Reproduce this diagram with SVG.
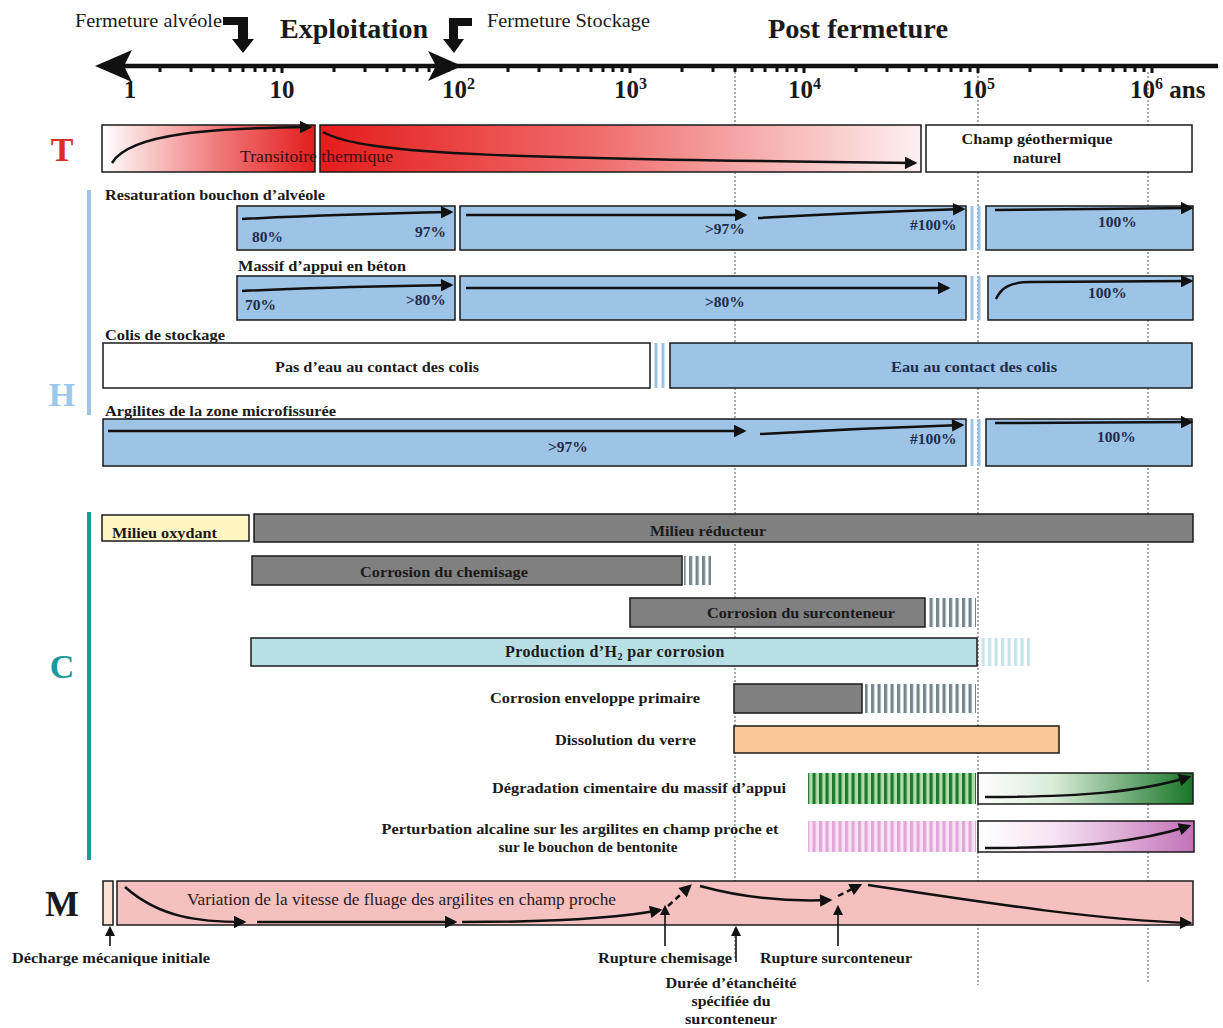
<svg xmlns="http://www.w3.org/2000/svg" width="1223" height="1028" viewBox="0 0 1223 1028">
<style>
text{font-family:"Liberation Serif","Times New Roman",serif;fill:#1a1a1a}
.b{font-weight:bold}
.lbl{font-size:15px;font-weight:bold}
.box{stroke:#1a1a1a;stroke-width:1.5}
.hb{fill:#9dc3e6;stroke:#1a1a1a;stroke-width:1.5}
.gray{fill:#808080;stroke:#1a1a1a;stroke-width:1.5}
.arr{fill:none;stroke:#111;stroke-width:2.5;marker-end:url(#ah)}
.thin{fill:none;stroke:#111;stroke-width:1.6;marker-end:url(#ah2)}
.dot{stroke:#555;stroke-width:1;stroke-dasharray:2,2}
.gap{stroke:#9dc3e6;stroke-width:3}
.ht{font-size:15.5px;font-weight:bold;fill:#1f2d4d}
</style>
<defs>
<marker id="ah" viewBox="0 0 10 10" refX="8" refY="5" markerWidth="5.5" markerHeight="5" orient="auto"><path d="M0,0 L10,5 L0,10 z" fill="#111"/></marker>
<marker id="ah2" viewBox="0 0 10 10" refX="8" refY="5" markerWidth="6.5" markerHeight="6.5" orient="auto"><path d="M0,0 L10,5 L0,10 z" fill="#111"/></marker>
<linearGradient id="gT1" x1="0" y1="0" x2="1" y2="0"><stop offset="0" stop-color="#ffffff"/><stop offset="0.55" stop-color="#f07878"/><stop offset="1" stop-color="#e41c1c"/></linearGradient>
<linearGradient id="gT2" x1="0" y1="0" x2="1" y2="0"><stop offset="0" stop-color="#e41c1c"/><stop offset="0.45" stop-color="#f06a6a"/><stop offset="1" stop-color="#fdf0f0"/></linearGradient>
<linearGradient id="gG" x1="0" y1="0" x2="1" y2="0"><stop offset="0" stop-color="#ffffff"/><stop offset="0.35" stop-color="#d8ecd8"/><stop offset="1" stop-color="#177526"/></linearGradient>
<linearGradient id="gP" x1="0" y1="0" x2="1" y2="0"><stop offset="0" stop-color="#ffffff"/><stop offset="0.35" stop-color="#f6e4f2"/><stop offset="1" stop-color="#c272b8"/></linearGradient>
<pattern id="pGray" patternUnits="userSpaceOnUse" width="6.5" height="10"><rect width="6.5" height="10" fill="#ffffff"/><rect width="3.2" height="10" fill="#73868e"/></pattern>
<pattern id="pCyan" patternUnits="userSpaceOnUse" width="6.5" height="10"><rect width="6.5" height="10" fill="#ffffff"/><rect width="3.2" height="10" fill="#c6e4ec"/></pattern>
<pattern id="pGreen" patternUnits="userSpaceOnUse" width="6.5" height="10"><rect width="6.5" height="10" fill="#b5dcae"/><rect width="3.2" height="10" fill="#1c7a2c"/></pattern>
<pattern id="pPink" patternUnits="userSpaceOnUse" width="6.5" height="10"><rect width="6.5" height="10" fill="#f8e4f4"/><rect width="3.2" height="10" fill="#e2a6da"/></pattern>
</defs>
<rect width="1223" height="1028" fill="#ffffff"/>

<g id="dotted-lines">
<line class="dot" x1="735" y1="72" x2="735" y2="960"/>
<line class="dot" x1="978" y1="72" x2="978" y2="985"/>
<line class="dot" x1="1148" y1="72" x2="1148" y2="982"/>
</g>

<g id="timeline">
<text x="75" y="27" font-size="18" textLength="147" lengthAdjust="spacingAndGlyphs">Fermeture alvéole</text>
<text x="280" y="38" font-size="28" class="b" textLength="148" lengthAdjust="spacingAndGlyphs">Exploitation</text>
<text x="487" y="27" font-size="18" textLength="163" lengthAdjust="spacingAndGlyphs">Fermeture Stockage</text>
<text x="768" y="38" font-size="28" class="b" textLength="180" lengthAdjust="spacingAndGlyphs">Post fermeture</text>
<polygon points="223,17 248,17 248,39 254,39 243,53 232,39 238,39 238,25 223,25" fill="#111"/>
<polygon points="472,26 458,26 458,39 464,39 454,53 443,39 449,39 449,18 472,18" fill="#111"/>
<line x1="120" y1="66" x2="1218" y2="66" stroke="#111" stroke-width="4.5"/>
<polygon points="95,66 132,50 124,66 132,82" fill="#111"/>
<polygon points="462,66 428,51 436,66 428,81" fill="#111"/>
<path stroke="#111" stroke-width="3" d="M160,66v6M191,66v6M213,66v6M230,66v6M243,66v6M255,66v6M265,66v6M274,66v6M282,66v7M334,66v6M365,66v6M387,66v6M404,66v6M417,66v6M429,66v6M439,66v6M448,66v6M508,66v6M539,66v6M561,66v6M578,66v6M591,66v6M603,66v6M613,66v6M622,66v6M630,66v7M682,66v6M713,66v6M735,66v6M752,66v6M765,66v6M777,66v6M787,66v6M796,66v6M804,66v7M856,66v6M887,66v6M909,66v6M926,66v6M939,66v6M951,66v6M961,66v6M970,66v6M978,66v7M1030,66v6M1061,66v6M1083,66v6M1100,66v6M1113,66v6M1125,66v6M1135,66v6M1144,66v6M1152,66v7"/>
<text x="130" y="98" font-size="25" class="b" text-anchor="middle">1</text>
<text x="282" y="98" font-size="25" class="b" text-anchor="middle">10</text>
<text x="442" y="98" font-size="25" class="b">10<tspan font-size="16" dy="-9">2</tspan></text>
<text x="614" y="98" font-size="25" class="b">10<tspan font-size="16" dy="-9">3</tspan></text>
<text x="788" y="98" font-size="25" class="b">10<tspan font-size="16" dy="-9">4</tspan></text>
<text x="962" y="98" font-size="25" class="b">10<tspan font-size="16" dy="-9">5</tspan></text>
<text x="1130" y="98" font-size="25" class="b">10<tspan font-size="16" dy="-9">6</tspan><tspan dy="9"> ans</tspan></text>
</g>

<g id="T">
<text x="62" y="161" font-size="34" class="b" text-anchor="middle" style="fill:#d63022">T</text>
<rect class="box" x="102" y="125" width="213" height="47" fill="url(#gT1)"/>
<rect class="box" x="320" y="125" width="601" height="47" fill="url(#gT2)"/>
<rect class="box" x="926" y="125" width="266" height="47" fill="#ffffff"/>
<path class="arr" d="M112,163 C130,132 220,128 310,127"/>
<path class="arr" d="M323,132 C365,156 520,158 915,163"/>
<text x="240" y="162" font-size="16" textLength="153" lengthAdjust="spacingAndGlyphs" style="fill:#3a1010">Transitoire thermique</text>
<text x="1037" y="144" class="lbl" text-anchor="middle" textLength="151" lengthAdjust="spacingAndGlyphs">Champ géothermique</text>
<text x="1037" y="163" class="lbl" text-anchor="middle" textLength="48" lengthAdjust="spacingAndGlyphs">naturel</text>
</g>

<g id="H">
<line x1="89" y1="190" x2="89" y2="415" stroke="#9dc3e6" stroke-width="4"/>
<text x="62" y="406" font-size="34" class="b" text-anchor="middle" style="fill:#9cc8ec">H</text>

<g id="resaturation">
<text x="105" y="200" class="lbl" textLength="220" lengthAdjust="spacingAndGlyphs">Resaturation bouchon d’alvéole</text>
<rect class="hb" x="237" y="206" width="218" height="44"/>
<rect class="hb" x="460" y="206" width="506" height="44"/>
<line class="gap" x1="972" y1="206" x2="972" y2="250"/><line class="gap" x1="979" y1="206" x2="979" y2="250"/>
<rect class="hb" x="986" y="206" width="207" height="44"/>
<path class="arr" d="M242,219 C320,215 400,213 451,212"/>
<path class="arr" d="M466,215 L745,215"/>
<path class="arr" d="M758,218 C830,214 900,211 963,209"/>
<path class="arr" d="M995,210 L1191,208"/>
<text x="252" y="242" class="ht">80%</text>
<text x="415" y="237" class="ht">97%</text>
<text x="705" y="234" class="ht">&gt;97%</text>
<text x="910" y="230" class="ht">#100%</text>
<text x="1098" y="227" class="ht">100%</text>
</g>

<g id="massif">
<text x="238" y="271" class="lbl" textLength="168" lengthAdjust="spacingAndGlyphs">Massif d’appui en béton</text>
<rect class="hb" x="237" y="276" width="218" height="44"/>
<rect class="hb" x="460" y="276" width="506" height="44"/>
<line class="gap" x1="972" y1="276" x2="972" y2="320"/><line class="gap" x1="979" y1="276" x2="979" y2="320"/>
<rect class="hb" x="988" y="276" width="205" height="44"/>
<path class="arr" d="M242,291 C320,287 400,286 451,285"/>
<path class="arr" d="M466,288 L948,288"/>
<path class="arr" d="M996,299 C1001,288 1010,282 1030,282 L1191,281"/>
<text x="245" y="310" class="ht">70%</text>
<text x="406" y="305" class="ht">&gt;80%</text>
<text x="705" y="307" class="ht">&gt;80%</text>
<text x="1088" y="298" class="ht">100%</text>
</g>

<g id="colis">
<text x="105" y="340" class="lbl" textLength="120" lengthAdjust="spacingAndGlyphs">Colis de stockage</text>
<rect class="box" x="103" y="343" width="547" height="45" fill="#ffffff"/>
<line class="gap" x1="656" y1="343" x2="656" y2="388"/><line class="gap" x1="663" y1="343" x2="663" y2="388"/>
<rect class="hb" x="670" y="343" width="522" height="45"/>
<text x="377" y="372" class="lbl" text-anchor="middle" textLength="204" lengthAdjust="spacingAndGlyphs">Pas d’eau au contact des colis</text>
<text x="974" y="372" class="ht" text-anchor="middle" textLength="166" lengthAdjust="spacingAndGlyphs">Eau au contact des colis</text>
</g>

<g id="argilites">
<text x="105" y="416" class="lbl" textLength="231" lengthAdjust="spacingAndGlyphs">Argilites de la zone microfissurée</text>
<rect class="hb" x="103" y="419" width="863" height="47"/>
<line class="gap" x1="972" y1="419" x2="972" y2="466"/><line class="gap" x1="979" y1="419" x2="979" y2="466"/>
<rect class="hb" x="986" y="419" width="206" height="47"/>
<path class="arr" d="M108,431 L744,431"/>
<path class="arr" d="M760,434 C830,430 900,427 962,425"/>
<path class="arr" d="M995,423 L1191,422"/>
<text x="548" y="452" class="ht">&gt;97%</text>
<text x="910" y="444" class="ht">#100%</text>
<text x="1097" y="442" class="ht">100%</text>
</g>
</g>

<g id="C">
<line x1="89" y1="512" x2="89" y2="860" stroke="#1a9a98" stroke-width="4"/>
<text x="62" y="678" font-size="34" class="b" text-anchor="middle" style="fill:#1a9a98">C</text>
<g id="oxydant"><rect class="box" x="102" y="515" width="147" height="26" fill="#fff6c4"/><text x="112" y="538" class="lbl" textLength="105" lengthAdjust="spacingAndGlyphs">Milieu oxydant</text></g>
<g id="reducteur"><rect class="gray" x="254" y="514" width="939" height="28"/><text x="708" y="536" class="lbl" text-anchor="middle" textLength="116" lengthAdjust="spacingAndGlyphs">Milieu réducteur</text></g>
<g id="chemisage"><rect class="gray" x="252" y="556" width="430" height="29"/><rect x="684" y="556" width="27" height="29" fill="url(#pGray)"/><text x="444" y="577" class="lbl" text-anchor="middle" textLength="168" lengthAdjust="spacingAndGlyphs">Corrosion du chemisage</text></g>
<g id="surconteneur"><rect class="gray" x="630" y="598" width="295" height="29"/><rect x="927" y="598" width="49" height="29" fill="url(#pGray)"/><text x="801" y="618" class="lbl" text-anchor="middle" textLength="188" lengthAdjust="spacingAndGlyphs">Corrosion du surconteneur</text></g>
<g id="h2"><rect class="box" x="251" y="638" width="726" height="28" fill="#b8dfe3"/><rect x="980" y="638" width="50" height="28" fill="url(#pCyan)"/><text x="505" y="657" font-size="16" class="b" letter-spacing="0.4">Production d’H<tspan font-size="10" dy="3">2</tspan><tspan dy="-3"> par corrosion</tspan></text></g>
<g id="enveloppe"><text x="700" y="703" class="lbl" text-anchor="end" textLength="210" lengthAdjust="spacingAndGlyphs">Corrosion enveloppe primaire</text><rect class="gray" x="734" y="684" width="128" height="29"/><rect x="865" y="684" width="111" height="29" fill="url(#pGray)"/></g>
<g id="verre"><text x="696" y="745" class="lbl" text-anchor="end" textLength="141" lengthAdjust="spacingAndGlyphs">Dissolution du verre</text><rect class="box" x="734" y="726" width="325" height="27" fill="#fac898"/></g>
<g id="cimentaire"><text x="786" y="793" class="lbl" text-anchor="end" textLength="294" lengthAdjust="spacingAndGlyphs">Dégradation cimentaire du massif d’appui</text><rect x="808" y="773" width="168" height="31" fill="url(#pGreen)"/><rect class="box" x="978" y="773" width="215" height="31" fill="url(#gG)"/><path class="arr" d="M985,797 C1080,797 1140,792 1189,777"/></g>
<g id="alcaline"><text x="580" y="834" class="lbl" text-anchor="middle" textLength="397" lengthAdjust="spacingAndGlyphs">Perturbation alcaline sur les argilites en champ proche et</text><text x="588" y="852" class="lbl" text-anchor="middle" textLength="179" lengthAdjust="spacingAndGlyphs">sur le bouchon de bentonite</text><rect x="808" y="821" width="168" height="31" fill="url(#pPink)"/><rect class="box" x="978" y="821" width="216" height="31" fill="url(#gP)"/><path class="arr" d="M985,848 C1080,848 1140,842 1189,826"/></g>
</g>

<g id="M">
<text x="62" y="916" font-size="36" class="b" text-anchor="middle">M</text>
<rect class="box" x="103" y="881" width="10" height="44" fill="#fde2d4"/>
<rect class="box" x="117" y="881" width="1076" height="44" fill="#f5c0c0"/>
<text x="187" y="905" font-size="17" textLength="429" lengthAdjust="spacingAndGlyphs" style="fill:#2a1a1a">Variation de la vitesse de fluage des argilites en champ proche</text>
<g id="m-arrows">
<path class="arr" d="M125,887 C160,918 200,922 244,922"/>
<path class="arr" d="M257,922 L455,922"/>
<path class="arr" d="M462,922 C560,922 620,918 660,910"/>
<path class="arr" d="M668,906 L690,886" stroke-dasharray="6,4"/>
<path class="arr" d="M700,886 C740,897 780,902 830,900"/>
<path class="arr" d="M838,896 L860,885" stroke-dasharray="6,4"/>
<path class="arr" d="M868,885 C1000,905 1100,920 1190,923"/>
</g>
</g>

<g id="annotations">
<path class="thin" d="M110,946 L110,928"/>
<text x="12" y="963" class="lbl" textLength="198" lengthAdjust="spacingAndGlyphs">Décharge mécanique initiale</text>
<path class="thin" d="M665,946 L665,907"/>
<text x="598" y="963" class="lbl" textLength="134" lengthAdjust="spacingAndGlyphs">Rupture chemisage</text>
<path class="thin" d="M736,962 L736,928"/>
<text x="731" y="988" class="lbl" text-anchor="middle" textLength="131" lengthAdjust="spacingAndGlyphs">Durée d’étanchéité</text>
<text x="731" y="1006" class="lbl" text-anchor="middle" textLength="79" lengthAdjust="spacingAndGlyphs">spécifiée du</text>
<text x="731" y="1024" class="lbl" text-anchor="middle" textLength="92" lengthAdjust="spacingAndGlyphs">surconteneur</text>
<path class="thin" d="M838,946 L838,907"/>
<text x="760" y="963" class="lbl" textLength="152" lengthAdjust="spacingAndGlyphs">Rupture surconteneur</text>
</g>
</svg>
